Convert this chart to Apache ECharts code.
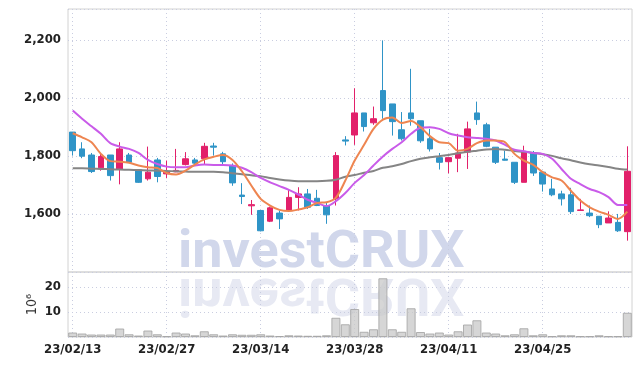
<!DOCTYPE html>
<html>
<head>
<meta charset="utf-8">
<script src="https://cdn.jsdelivr.net/npm/echarts@6/dist/echarts.min.js"></script>
<style>
  html, body { margin: 0; padding: 0; background: #fff; }
  #chart { width: 642px; height: 366px; }
</style>
</head>
<body>
<div id="chart"></div>
<script>
// trading days
var dates = [
  '23/02/13','23/02/14','23/02/15','23/02/16','23/02/17','23/02/20','23/02/21','23/02/22','23/02/23','23/02/24',
  '23/02/27','23/02/28','23/03/02','23/03/03','23/03/06','23/03/07','23/03/08','23/03/09','23/03/10','23/03/13',
  '23/03/14','23/03/15','23/03/16','23/03/17','23/03/20','23/03/21','23/03/22','23/03/23','23/03/24','23/03/27',
  '23/03/28','23/03/29','23/03/30','23/03/31','23/04/03','23/04/04','23/04/05','23/04/06','23/04/07','23/04/10',
  '23/04/11','23/04/12','23/04/13','23/04/14','23/04/17','23/04/18','23/04/19','23/04/20','23/04/21','23/04/24',
  '23/04/25','23/04/26','23/04/27','23/04/28','23/05/02','23/05/03','23/05/04','23/05/08','23/05/09','23/05/10'
];
var openP = [1882,1824,1803,1759,1803,1753,1803,1752,1721,1786, 1738,1745,1770,1786,1790,1834,1807,1767,1665,1628,
             1612,1575,1603,1612,1657,1669,1654,1629,1652,1855, 1872,1948,1914,2025,1979,1890,1948,1921,1859,1794,
             1780,1792,1813,1948,1907,1830,1789,1778,1709,1810, 1744,1686,1669,1666,1612,1603,1592,1569,1571,1539];
var closeP = [1818,1799,1746,1798,1732,1824,1778,1709,1744,1729, 1745,1750,1790,1775,1833,1830,1780,1707,1660,1632,
              1542,1621,1583,1657,1669,1623,1629,1597,1801,1851, 1948,1901,1928,1956,1918,1859,1928,1852,1824,1778,
              1794,1810,1893,1925,1833,1778,1785,1709,1813,1741, 1703,1666,1652,1608,1614,1594,1563,1586,1542,1747];
var lowP = [1801,1792,1741,1749,1715,1702,1776,1707,1715,1709, 1723,1744,1767,1767,1772,1801,1770,1697,1634,1597,
            1540,1572,1548,1612,1612,1617,1627,1566,1629,1836, 1838,1884,1907,1928,1870,1853,1904,1845,1815,1753,
            1740,1744,1755,1907,1830,1772,1784,1703,1709,1731, 1677,1661,1629,1600,1611,1589,1551,1569,1538,1508];
var highP = [1882,1847,1810,1807,1803,1847,1810,1754,1832,1793, 1784,1824,1813,1793,1845,1845,1814,1774,1706,1648,
             1612,1625,1612,1686,1692,1686,1683,1640,1813,1868, 2033,1948,1970,2198,1979,1951,2100,1921,1893,1810,
             1794,1876,1918,1987,1914,1830,1818,1778,1835,1817, 1744,1721,1680,1690,1652,1629,1592,1609,1600,1833];
// volume, in millions
var volume = [1.8,1.4,1.0,1.0,1.0,3.4,1.1,0.6,2.6,1.1, 0.3,1.8,1.4,0.7,2.3,1.1,0.6,1.1,0.9,0.9,
              1.1,0.6,0.4,0.7,0.6,0.5,0.5,0.7,7.7,5.1, 11.2,2.1,3.1,23.5,3.1,2.1,11.5,2.0,1.4,1.8,
              1.0,2.3,5.0,6.7,1.8,1.4,0.7,1.1,3.5,0.7, 1.1,0.3,0.7,0.7,0.3,0.3,0.7,0.3,0.3,9.7];
var ma5 = [1878,1864,1847,1807,1782,1780,1776,1767,1761,1758, 1741,1736,1749,1770,1788,1797,1803,1786,1747,1698,
           1652,1629,1614,1610,1615,1623,1638,1640,1656,1715, 1784,1838,1893,1925,1932,1913,1920,1899,1868,1847,
           1844,1818,1824,1844,1853,1853,1847,1807,1784,1769, 1744,1726,1715,1680,1646,1623,1608,1597,1583,1608];
var ma10 = [1956,1928,1902,1876,1844,1832,1824,1810,1786,1772, 1763,1761,1761,1767,1770,1769,1769,1767,1759,1744,
            1724,1709,1696,1683,1667,1649,1638,1627,1644,1672, 1707,1734,1767,1798,1824,1847,1876,1897,1899,1893,
            1878,1870,1864,1862,1859,1853,1838,1821,1816,1810, 1807,1790,1755,1721,1703,1686,1675,1658,1631,1631];
var ma60 = [1757,1757,1756,1755,1754,1753,1752,1751,1750,1749, 1748,1747,1746,1745,1745,1745,1744,1740,1737,1733,
            1730,1724,1719,1715,1713,1713,1713,1714,1718,1728, 1734,1742,1748,1759,1764,1772,1782,1790,1795,1799,
            1803,1809,1814,1818,1822,1824,1821,1817,1814,1810, 1806,1800,1792,1785,1777,1771,1767,1762,1756,1753];
var priceTicks = [1600, 1800, 2000, 2200];
var volTicks = [10, 20];

var candles = dates.map(function (d, i) {
  return [openP[i], closeP[i], lowP[i], highP[i]];
});

var labelFont = "'DejaVu Sans Condensed','Liberation Sans Narrow',sans-serif";
var gridDot = { color: '#c9cde0', type: [1, 3], width: 1 };
var wmFont = "bold 54px Roboto, 'Liberation Sans', sans-serif";

var chart = echarts.init(document.getElementById('chart'));
chart.setOption({
  animation: false,
  grid: [
    { left: 68, right: 10, top: 9, height: 263, show: true, borderColor: '#d2d2d2', borderWidth: 1 },
    { left: 68, right: 10, top: 272, height: 65, show: true, borderColor: '#d2d2d2', borderWidth: 1 }
  ],
  xAxis: [{
    type: 'category', gridIndex: 0, data: dates, boundaryGap: true,
    axisLine: { show: false }, axisTick: { show: false }, axisLabel: { show: false },
    splitLine: { show: true, interval: 9, alignWithLabel: true, lineStyle: gridDot }
  }, {
    type: 'category', gridIndex: 1, data: dates, boundaryGap: true,
    axisLine: { show: false },
    axisTick: { show: false },
    axisLabel: { interval: 9, color: '#222', fontSize: 13, fontWeight: 'bold', fontFamily: labelFont, margin: 6 },
    splitLine: { show: true, interval: 9, alignWithLabel: true, lineStyle: gridDot }
  }],
  yAxis: [{
    type: 'value', gridIndex: 0, min: 1400, max: 2306, interval: 200,
    axisLine: { show: false }, axisTick: { show: false },
    axisLabel: {
      color: '#222', fontSize: 13, fontWeight: 'bold', fontFamily: labelFont, margin: 7,
      formatter: function (v) {
        return priceTicks.indexOf(v) >= 0 ? v.toLocaleString('en-US') : '';
      }
    },
    splitLine: { lineStyle: gridDot }
  }, {
    type: 'value', gridIndex: 1, min: 0, max: 26, interval: 10,
    name: '10\u2076', nameLocation: 'middle', nameRotate: 90, nameGap: 29, nameMoveOverlap: false,
    nameTextStyle: { color: '#333', fontSize: 14, fontFamily: labelFont },
    axisLine: { show: false }, axisTick: { show: false },
    axisLabel: {
      color: '#222', fontSize: 13, fontWeight: 'bold', fontFamily: labelFont, margin: 7,
      formatter: function (v) { return volTicks.indexOf(v) >= 0 ? String(v) : ''; }
    },
    splitLine: { lineStyle: gridDot }
  }],
  graphic: [
    { type: 'text', x: 178, y: 280, scaleY: 0.95, z: -10, silent: true,
      style: { text: 'investCRUX', font: wmFont, fill: '#d1d7eb', verticalAlign: 'bottom' } },
    { type: 'text', x: 178, y: 266, scaleY: -0.95, z: -10, silent: true,
      style: { text: 'investCRUX', font: wmFont, fill: '#e7e9f3', verticalAlign: 'bottom' } }
  ],
  series: [{
    name: 'price', type: 'candlestick', xAxisIndex: 0, yAxisIndex: 0,
    data: candles, barWidth: 6,
    itemStyle: { color: '#e2206a', color0: '#2f94c7', borderColor: '#e2206a', borderColor0: '#2f94c7', borderWidth: 1 }
  }, {
    name: 'MA60', type: 'line', data: ma60, symbol: 'none', smooth: 0.3,
    lineStyle: { color: '#858585', width: 2 }
  }, {
    name: 'MA10', type: 'line', data: ma10, symbol: 'none', smooth: 0.3,
    lineStyle: { color: '#c95be9', width: 2 }
  }, {
    name: 'MA5', type: 'line', data: ma5, symbol: 'none', smooth: 0.3,
    lineStyle: { color: '#ee8550', width: 2 }
  }, {
    name: 'volume', type: 'bar', xAxisIndex: 1, yAxisIndex: 1, data: volume,
    barCategoryGap: '4%',
    itemStyle: { color: 'rgba(200,200,200,0.75)', borderColor: 'rgba(165,165,165,0.85)', borderWidth: 1 }
  }]
});
</script>
</body>
</html>
